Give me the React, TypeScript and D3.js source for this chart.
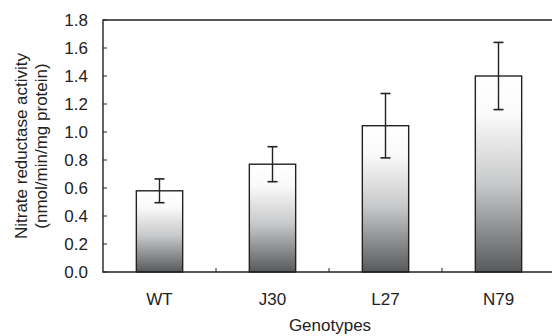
import * as d3 from 'd3';
import React from "react";

const genotypes = ["WT", "J30", "L27", "N79"];
const activity = [0.58, 0.77, 1.045, 1.40];
const errors = [0.085, 0.125, 0.23, 0.24];
const yTicks = [0, 0.2, 0.4, 0.6, 0.8, 1.0, 1.2, 1.4, 1.6, 1.8];

export default function App() {
    const w = 552, h = 336;
    const m = { top: 20, right: -3, bottom: 64, left: 103 };

    const x = d3.scaleBand<string>().domain(genotypes).range([m.left, w - m.right]).paddingInner(0.59).paddingOuter(0.295);
    const y = d3.scaleLinear().domain([0, 1.8]).range([h - m.bottom, m.top]);
    const step = x.step();
    const font = "Arial, 'Liberation Sans', sans-serif";
    const ink = "#222";
    const fs = 17;

    return (
        <svg width={w} height={h} style={{ position: "absolute", left: 0, top: 0, background: "#fff" }} fontFamily={font}>
            <defs>
                <linearGradient id="barFill" x1="0" y1="0" x2="0" y2="1">
                    <stop offset="0" stopColor="#ffffff" />
                    <stop offset="0.2" stopColor="#fafafa" />
                    <stop offset="0.55" stopColor="#c8c9ca" />
                    <stop offset="1" stopColor="#58595b" />
                </linearGradient>
            </defs>

            {genotypes.map((g, i) => {
                const bx = x(g)!;
                const cx = bx + x.bandwidth() / 2;
                return (
                    <g key={g}>
                        <rect x={bx} y={y(activity[i])} width={x.bandwidth()} height={y(0) - y(activity[i])}
                            fill="url(#barFill)" stroke={ink} strokeWidth={1.4} />
                        <line x1={cx} x2={cx} y1={y(activity[i] + errors[i])} y2={y(activity[i] - errors[i])} stroke={ink} strokeWidth={1.4} />
                        <line x1={cx - 5} x2={cx + 5} y1={y(activity[i] + errors[i])} y2={y(activity[i] + errors[i])} stroke={ink} strokeWidth={1.6} />
                        <line x1={cx - 5} x2={cx + 5} y1={y(activity[i] - errors[i])} y2={y(activity[i] - errors[i])} stroke={ink} strokeWidth={1.6} />
                        <text x={cx} y={305} textAnchor="middle" fontSize={fs} fill="#222">{g}</text>
                    </g>
                );
            })}

            {/* tick marks between categories */}
            {genotypes.slice(1).map(g => (
                <line key={g} x1={x(g)! - step * 0.295} x2={x(g)! - step * 0.295} y1={y(0)} y2={y(0) - 4} stroke={ink} strokeWidth={1} />
            ))}

            {/* frame: left, top, bottom */}
            <path d={`M${w},${m.top}H${m.left}V${y(0)}H${w}`} fill="none" stroke={ink} strokeWidth={1.4} />

            {yTicks.map(t => (
                <g key={t}>
                    <line x1={m.left} x2={m.left + 4} y1={y(t)} y2={y(t)} stroke={ink} strokeWidth={1} />
                    <text x={88} y={y(t)} textAnchor="end" dominantBaseline="central" fontSize={fs} fill="#222">{t.toFixed(1)}</text>
                </g>
            ))}

            <g transform={`translate(27,${(m.top + y(0)) / 2}) rotate(-90)`}>
                <text textAnchor="middle" fontSize={fs} fill="#222">Nitrate reductase activity</text>
                <text y={20} textAnchor="middle" fontSize={fs} fill="#222">(nmol/min/mg protein)</text>
            </g>

            <text x={330} y={331} textAnchor="middle" fontSize={fs} fill="#222">Genotypes</text>
        </svg>
    );
}
